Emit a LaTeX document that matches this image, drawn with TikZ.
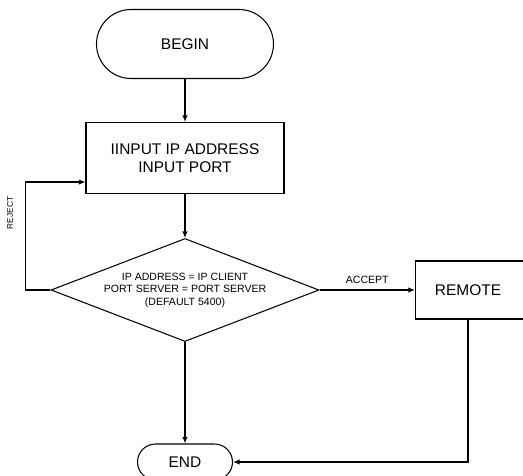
\documentclass[tikz,border=0pt]{standalone}
\usepackage{fontspec}
\setmainfont{Liberation Sans}
\usepackage{tikz}
\usetikzlibrary{shapes.geometric,arrows.meta}

\begin{document}
\begin{tikzpicture}[node distance=2.28cm, auto, >={Latex[length=1.3mm,width=1.1mm]}]
    \tikzstyle{terminal} = [rectangle, rounded corners=0.69cm, minimum width=3.54cm, minimum height=1.38cm, text centered, draw=black, line width=0.6pt, font=\fontsize{8.8}{10.6}\selectfont]
    \tikzstyle{process} = [rectangle, minimum width=3.96cm, minimum height=1.42cm, align=center, draw=black, line width=0.6pt, font=\fontsize{8.8}{10.6}\selectfont]
    \tikzstyle{decision} = [diamond, shape aspect=2.6, minimum width=5.36cm, minimum height=2.06cm, inner sep=0pt, align=center, draw=black, line width=0.6pt, font=\fontsize{6}{7.1}\selectfont]
    \tikzstyle{flow} = [->, line width=0.7pt]

    \clip (0,0) rectangle (10.46,-9.5);

    % Flow nodes
    \node [terminal] (begin) at (3.7,-0.88) {BEGIN};
    \node [process, below of=begin] (input) {IINPUT IP ADDRESS\\INPUT PORT};
    \node [decision, below of=input, node distance=2.64cm] (check) {IP ADDRESS = IP CLIENT\\PORT SERVER = PORT SERVER\\(DEFAULT 5400)};
    \node [process, right of=check, node distance=5.66cm, minimum width=2.26cm, minimum height=1.16cm, xshift=0.08cm] (remote) {\hspace*{-0.16cm}REMOTE};
    \node [terminal, below of=check, node distance=3.44cm, minimum width=1.9cm, minimum height=0.72cm, rounded corners=0.36cm] (end) {END};

    % Branch label
    \node [rotate=90, font=\fontsize{4.7}{5}\selectfont] (reject) at (0.2,-4.26) {REJECT};

    % Arrows
    \draw [flow] (begin) -- (input);
    \draw [flow] (input) -- (check);
    \draw [flow] (check.west) -- ++(-0.5,0) |- ([yshift=-0.48cm]input.west);
    \draw [flow] (check.east) -- node [above, font=\fontsize{6}{7}\selectfont] {ACCEPT} (remote.west);
    \draw [flow] (check.south) -- (end.north);
    \draw [flow] ([xshift=-0.08cm]remote.south) |- (end.east);
\end{tikzpicture}
\end{document}
